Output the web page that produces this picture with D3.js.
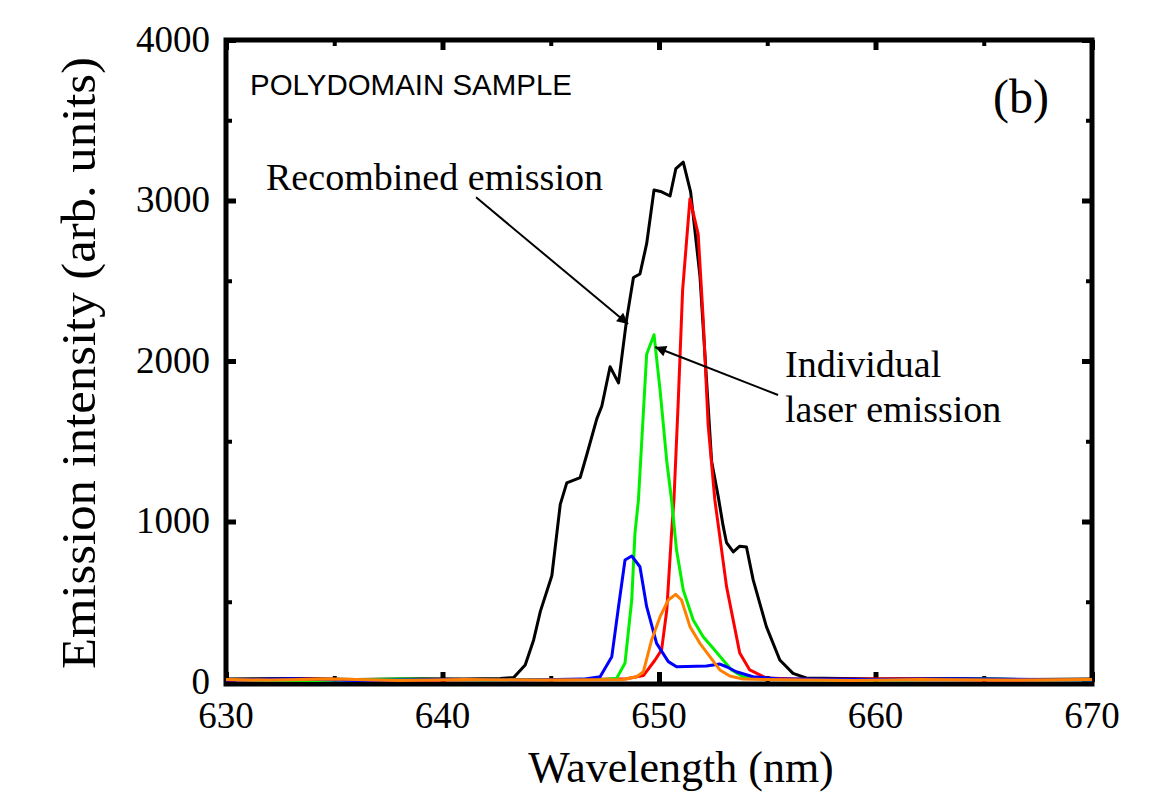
<!DOCTYPE html>
<html>
<head>
<meta charset="utf-8">
<script src="https://cdn.jsdelivr.net/npm/d3@7"></script>
<style>
  body { margin: 0; background: #fff; }
  text { fill: #000; }
</style>
</head>
<body>
<div id="chart"></div>
<script>
// 1: DATA - [wavelength nm, intensity]
const blackSeries = [
  [630, 18], [633, 22], [636, 15], [639, 20], [641, 18], [642.67, 22], [643.29, 28],
  [643.82, 106], [644.21, 262], [644.52, 440], [645.05, 662], [645.44, 1107],
  [645.74, 1241], [646.36, 1274], [646.67, 1419], [647.13, 1641], [647.36, 1720],
  [647.74, 1964], [648.13, 1864], [648.51, 2264], [648.82, 2520], [649.12, 2542],
  [649.43, 2731], [649.77, 3065], [650.12, 3054], [650.51, 3028], [650.78, 3199],
  [651.12, 3239], [651.46, 3054], [651.89, 2531], [652.12, 2043], [652.43, 1376],
  [652.74, 1152], [652.96, 974], [653.12, 868], [653.43, 810], [653.73, 846],
  [654.04, 841], [654.35, 636], [654.96, 345], [655.58, 137], [656.19, 54],
  [656.8, 25], [660, 18], [664, 22], [667, 15], [670, 18]
];
const redSeries = [
  [630, 12], [634, 18], [638, 10], [642, 15], [645, 12], [648.5, 20], [649.28, 40],
  [649.82, 137], [650.12, 200], [650.36, 449], [650.58, 928], [650.69, 1134],
  [650.89, 1750], [651.09, 2440], [651.43, 3010], [651.81, 2790], [652.04, 2264],
  [652.27, 1600], [652.58, 1134], [653.12, 594], [653.73, 180], [654.19, 75],
  [654.96, 25], [657, 15], [661, 20], [665, 12], [670, 15]
];
const greenSeries = [
  [630, 15], [634, 10], [638, 18], [642, 12], [646, 15], [647.5, 15], [648.05, 24],
  [648.43, 118], [648.74, 511], [648.89, 928], [649.05, 1134], [649.43, 2042],
  [649.77, 2164], [650.05, 1819], [650.36, 1374], [650.58, 1134], [650.81, 822],
  [651.12, 573], [651.58, 386], [652.04, 282], [652.5, 210], [652.96, 137],
  [653.35, 75], [653.88, 33], [655, 15], [660, 12], [665, 18], [670, 12]
];
const blueSeries = [
  [630, 12], [633, 20], [636, 10], [640, 15], [644, 12], [646.5, 18], [647.28, 33],
  [647.82, 158], [648.13, 469], [648.43, 760], [648.74, 785], [649.12, 718],
  [649.43, 469], [649.89, 241], [650.43, 127], [650.81, 95], [652.19, 100],
  [652.81, 112], [653.12, 95], [653.57, 64], [654.34, 33], [655.5, 20], [660, 15],
  [664, 20], [670, 12]
];
const orangeSeries = [
  [630, 16], [632, 12], [635, 18], [638, 10], [641, 16], [644, 12], [647, 14], [648.35, 16],
  [648.97, 33], [649.28, 64], [649.66, 262], [650.05, 407], [650.43, 511],
  [650.77, 546], [651.04, 511], [651.43, 345], [651.89, 241], [652.35, 158],
  [652.81, 75], [653.27, 37], [653.88, 18], [656, 14], [659, 10], [662, 16],
  [666, 12], [670, 15]
];

const xMajorTicks = [630, 640, 650, 660, 670];
const xMinorTicks = [635, 645, 655, 665];
const yMajorTicks = [0, 1000, 2000, 3000, 4000];
const yMinorTicks = [500, 1500, 2500, 3500];

// annotations: arrow tail -> tip, in data units
const arrows = [
  { from: [641.55, 3020], to: [648.57, 2230] },
  { from: [655.5, 1788], to: [649.82, 2087] }
];

// 2: LAYOUT
const W = 1171, H = 809;
const plot = { left: 226, right: 1092, top: 40, bottom: 682 };

const svg = d3.select("#chart")
  .append("svg")
  .attr("width", W)
  .attr("height", H)
  .style("background", "#fff");

const x = d3.scaleLinear().domain([630, 670]).range([plot.left, plot.right]);
const y = d3.scaleLinear().domain([0, 4000]).range([plot.bottom, plot.top]);

const serif = "'Liberation Serif', 'Times New Roman', serif";
const sans = "'Liberation Sans', Arial, sans-serif";

// 3: AXES (inward ticks on all four sides)
function tickAxis(axis, values, size, width, transform) {
  const g = svg.append("g")
    .attr("transform", transform)
    .call(axis.tickValues(values).tickSize(-size).tickFormat(""));
  g.select(".domain").remove();
  g.selectAll("line").attr("stroke", "#000").attr("stroke-width", width);
  return g;
}
tickAxis(d3.axisBottom(x), xMajorTicks, 10, 5, `translate(0,${plot.bottom})`);
tickAxis(d3.axisBottom(x), xMinorTicks, 6, 4, `translate(0,${plot.bottom})`);
tickAxis(d3.axisTop(x), xMajorTicks, 10, 5, `translate(0,${plot.top})`);
tickAxis(d3.axisTop(x), xMinorTicks, 6, 4, `translate(0,${plot.top})`);
tickAxis(d3.axisLeft(y), yMajorTicks, 10, 5, `translate(${plot.left},0)`);
tickAxis(d3.axisLeft(y), yMinorTicks, 6, 4, `translate(${plot.left},0)`);
tickAxis(d3.axisRight(y), yMajorTicks, 10, 5, `translate(${plot.right},0)`);
tickAxis(d3.axisRight(y), yMinorTicks, 6, 4, `translate(${plot.right},0)`);

// frame
svg.append("rect")
  .attr("x", plot.left)
  .attr("y", plot.top)
  .attr("width", plot.right - plot.left)
  .attr("height", plot.bottom - plot.top + 2)
  .attr("fill", "none")
  .attr("stroke", "#000")
  .attr("stroke-width", 5);

// 4: CURVES (on top of the frame, as in the original)
const line = d3.line().x(d => x(d[0])).y(d => y(d[1]));
const series = [
  { data: blackSeries, color: "#000000" },
  { data: redSeries, color: "#ff0000" },
  { data: greenSeries, color: "#00f000" },
  { data: blueSeries, color: "#0000ff" },
  { data: orangeSeries, color: "#ff8000" }
];
for (const s of series) {
  svg.append("path")
    .datum(s.data)
    .attr("fill", "none")
    .attr("stroke", s.color)
    .attr("stroke-width", 3)
    .attr("stroke-linejoin", "round")
    .attr("d", line);
}

// tick labels
svg.append("g").selectAll("text")
  .data(xMajorTicks)
  .join("text")
  .attr("x", d => x(d))
  .attr("y", 728)
  .attr("text-anchor", "middle")
  .style("font-family", serif)
  .style("font-size", "37px")
  .text(d => d);

svg.append("g").selectAll("text")
  .data(yMajorTicks)
  .join("text")
  .attr("x", 210)
  .attr("y", d => y(d))
  .attr("dy", "0.32em")
  .attr("text-anchor", "end")
  .style("font-family", serif)
  .style("font-size", "37px")
  .text(d => d);

// axis titles
svg.append("text")
  .attr("x", 681)
  .attr("y", 782)
  .attr("text-anchor", "middle")
  .style("font-family", serif)
  .style("font-size", "44px")
  .text("Wavelength (nm)");

svg.append("text")
  .attr("transform", "rotate(-90)")
  .attr("x", -363)
  .attr("y", 95)
  .attr("text-anchor", "middle")
  .attr("textLength", 612)
  .attr("lengthAdjust", "spacingAndGlyphs")
  .style("font-family", serif)
  .style("font-size", "48px")
  .text("Emission intensity (arb. units)");

// 5: ANNOTATIONS
svg.append("text")
  .attr("x", 250)
  .attr("y", 95)
  .attr("textLength", 322)
  .attr("lengthAdjust", "spacingAndGlyphs")
  .style("font-family", sans)
  .style("font-size", "29px")
  .text("POLYDOMAIN SAMPLE");

svg.append("text")
  .attr("x", 993)
  .attr("y", 113)
  .style("font-family", serif)
  .style("font-size", "48px")
  .text("(b)");

svg.append("text")
  .attr("x", 266)
  .attr("y", 190)
  .attr("textLength", 337)
  .attr("lengthAdjust", "spacingAndGlyphs")
  .style("font-family", serif)
  .style("font-size", "38px")
  .text("Recombined emission");

svg.append("text")
  .attr("x", 785)
  .attr("y", 377)
  .style("font-family", serif)
  .style("font-size", "38px")
  .text("Individual");

svg.append("text")
  .attr("x", 785)
  .attr("y", 422)
  .style("font-family", serif)
  .style("font-size", "38px")
  .text("laser emission");

svg.append("defs").append("marker")
  .attr("id", "head")
  .attr("viewBox", "0 0 10 10")
  .attr("refX", 10)
  .attr("refY", 5)
  .attr("markerUnits", "userSpaceOnUse")
  .attr("markerWidth", 20)
  .attr("markerHeight", 11)
  .attr("orient", "auto")
  .append("path")
  .attr("d", "M0,0 L10,5 L0,10 Z")
  .attr("fill", "#000");

svg.append("g").selectAll("line")
  .data(arrows)
  .join("line")
  .attr("x1", d => x(d.from[0]))
  .attr("y1", d => y(d.from[1]))
  .attr("x2", d => x(d.to[0]))
  .attr("y2", d => y(d.to[1]))
  .attr("stroke", "#000")
  .attr("stroke-width", 2)
  .attr("marker-end", "url(#head)");
</script>
</body>
</html>
